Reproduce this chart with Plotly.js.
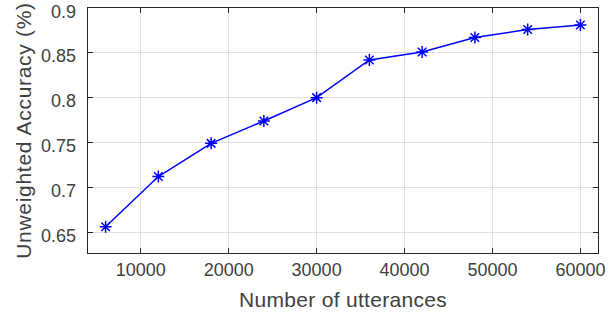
<!DOCTYPE html>
<html>
<head>
<meta charset="utf-8">
<script src="https://cdn.plot.ly/plotly-3.0.1.min.js"></script>
<style>html,body{margin:0;padding:0;background:#fff;}#chart{width:615px;height:318px;}
.xtitle{letter-spacing:0.3px;} .ytitle{letter-spacing:0.7px;}</style>
</head>
<body>
<div id="chart"></div>
<script>
const utterances = [6000, 12000, 18000, 24000, 30000, 36000, 42000, 48000, 54000, 60000];
const accuracy = [0.656, 0.712, 0.749, 0.774, 0.800, 0.842, 0.851, 0.867, 0.876, 0.881];
const xTicks = [10000, 20000, 30000, 40000, 50000, 60000];
const yTicks = [0.65, 0.7, 0.75, 0.8, 0.85, 0.9];
const yTickLabels = ['0.65', '0.7', '0.75', '0.8', '0.85', '0.9'];

const FONT = 'Liberation Sans, Arial, Helvetica, sans-serif';

const trace = {
  x: utterances, y: accuracy, type: 'scatter', mode: 'lines+markers',
  line: {color: '#0000ff', width: 1.5},
  marker: {symbol: 'asterisk-open', size: 10, color: '#0000ff', line: {color: '#0000ff', width: 1.5}}
};
const axisCommon = {
  showline: true, mirror: 'ticks', linecolor: '#262626', linewidth: 1,
  ticks: 'inside', ticklen: 5, tickcolor: '#262626', tickwidth: 1,
  showgrid: true, gridcolor: '#e0e0e0', gridwidth: 1, zeroline: false,
  ticklabeloverflow: 'allow',
  tickfont: {family: FONT, size: 18, color: '#404040'}
};
// y tick labels: placed on the y scale, sitting a few px below their tick as in the reference
const yLabelAnnotations = yTicks.map((v, i) => ({
  xref: 'paper', yref: 'y', x: 0, y: v, text: yTickLabels[i],
  showarrow: false, xanchor: 'right', yanchor: 'middle', xshift: -10, yshift: -3.5,
  font: {family: FONT, size: 18, color: '#404040'}
}));
const layout = {
  width: 615, height: 318,
  margin: {l: 88, r: 17, t: 8, b: 65},
  paper_bgcolor: '#fff', plot_bgcolor: '#fff',
  showlegend: false,
  annotations: yLabelAnnotations,
  xaxis: Object.assign({}, axisCommon, {
    range: [4000, 62000], tickvals: xTicks, ticktext: xTicks.map(String),
    title: {text: 'Number of utterances', font: {family: FONT, size: 21, color: '#404040'}, standoff: 13}
  }),
  yaxis: Object.assign({}, axisCommon, {
    range: [0.6267, 0.9], tickvals: yTicks, showticklabels: false,
    title: {text: 'Unweighted Accuracy (%)', font: {family: FONT, size: 21, color: '#404040'}, standoff: 49}
  })
};
Plotly.newPlot('chart', [trace], layout, {displayModeBar: false, staticPlot: true});
</script>
</body>
</html>
